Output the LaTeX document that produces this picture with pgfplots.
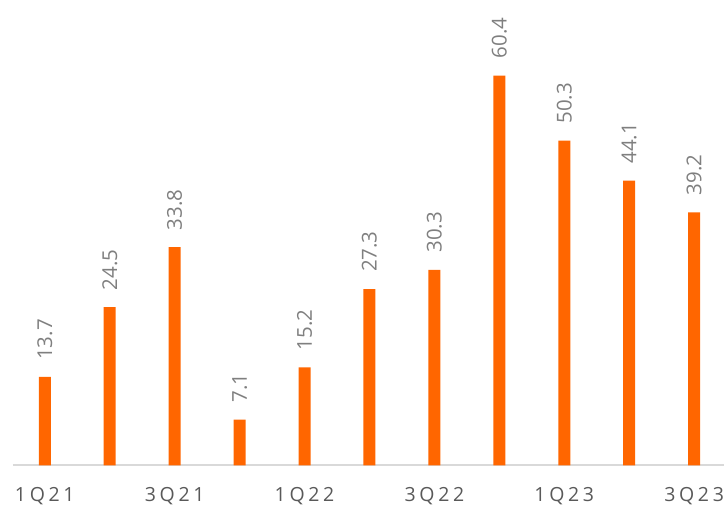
\documentclass[border=0pt]{standalone}
\usepackage{pgfplots}
\pgfplotsset{compat=1.18}
\usepackage{fontspec}
\setmainfont{Open Sans}
\newfontfamily\spaced[LetterSpace=19]{Open Sans}
\definecolor{barorange}{HTML}{FF6600}
\definecolor{valgray}{HTML}{7F7F7F}
\definecolor{tickgray}{HTML}{595959}
\definecolor{basegray}{HTML}{D9D9D9}

\begin{document}
\begin{tikzpicture}
    \begin{axis}[
        scale only axis,
        width  = 712bp,
        height = 466bp,
        ybar,
        bar width = 12bp,
        xmin = -0.49, xmax = 10.46,
        ymin = 0, ymax = 72.1,
        axis x line* = bottom,
        axis y line = none,
        x axis line style = {basegray, line width=2bp, -},
        major tick length = 0pt,
        xtick = {0,2,4,6,8,10},
        xticklabels = {1Q21,3Q21,1Q22,3Q22,1Q23,3Q23},
        xticklabel style = {font=\fontsize{19.5bp}{22bp}\spaced, text=tickgray, inner sep=0pt, yshift=-22bp},
        nodes near coords,
        nodes near coords style = {font=\fontsize{20.5bp}{24bp}\selectfont, text=valgray,
            rotate=90, anchor=west, inner sep=0pt, xshift=17bp,
            /pgf/number format/fixed, /pgf/number format/precision=1,
            /pgf/number format/fixed zerofill, /pgf/number format/assume math mode=true},
        clip = false,
    ]
        \addplot[fill=barorange, draw=none] coordinates {
            (0,13.7) (1,24.5) (2,33.8) (3,7.1) (4,15.2) (5,27.3)
            (6,30.3) (7,60.4) (8,50.3) (9,44.1) (10,39.2)
        };
    \end{axis}
    \path ([xshift=-13bp,yshift=-43bp]current axis.south west) rectangle (current axis.north east);
\end{tikzpicture}
\end{document}
